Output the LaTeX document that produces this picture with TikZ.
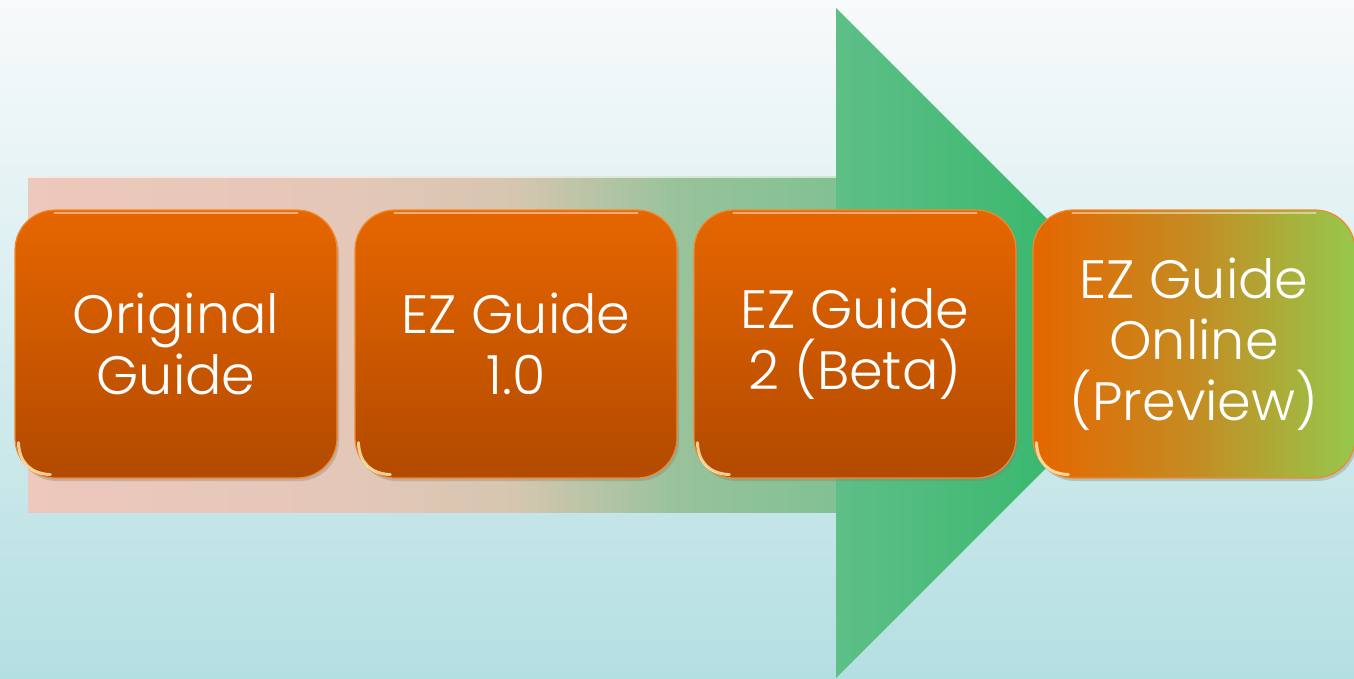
\documentclass[tikz,border=0pt]{standalone}
\usepackage{fontspec}
\IfFontExistsTF{Poppins Light}{\setmainfont{Poppins Light}}{\setmainfont{Poppins}}
\usetikzlibrary{shadows,calc}
\definecolor{bgtop}{HTML}{F8FAFB}
\definecolor{bgbot}{HTML}{B4DFE2}
\definecolor{shaftL}{HTML}{EDC8BC}
\definecolor{shaftM}{HTML}{D6C6B0}
\definecolor{shaftR}{HTML}{5CBF85}
\definecolor{headL}{HTML}{5EBF87}
\definecolor{headR}{HTML}{26B461}
\definecolor{boxT}{HTML}{E66600}
\definecolor{boxB}{HTML}{B24A00}
\definecolor{boxEdge}{HTML}{F08A2E}
\definecolor{onlineM}{HTML}{C48C22}
\definecolor{onlineR}{HTML}{96C84C}
\pgfdeclarehorizontalshading{shaftshade}{100bp}{%
  color(0bp)=(shaftL); color(25bp)=(shaftL); color(45bp)=(shaftL!60!shaftM);
  color(55bp)=(shaftM); color(65bp)=(shaftM!50!shaftR); color(75bp)=(shaftR!70!shaftM);
  color(100bp)=(shaftR)}
\tikzset{
  stage/.style={rectangle, rounded corners=40pt, minimum width=322pt, minimum height=268pt,
    draw=boxEdge, line width=1.2pt, text=white, align=center,
    font=\fontsize{54}{61}\selectfont, inner sep=0pt,
    drop shadow={opacity=0.35, shadow xshift=2pt, shadow yshift=-3pt}},
  orangebox/.style={stage, top color=boxT, bottom color=boxB},
  mixbox/.style={stage, left color=boxT, right color=onlineR, middle color=onlineM},
  gloss/.style={white, line width=2pt, opacity=0.45, line cap=round},
  glare/.style={white!80!yellow, line width=3pt, opacity=0.75, line cap=round}
}
\newcommand{\glossy}[1]{%
  \draw[gloss] ($(#1.north west)+(40,4)$) -- ($(#1.north east)+(-40,4)$);
  \draw[glare] ($(#1.south west)+(4,-36)$) .. controls ($(#1.south west)+(5,-16)$) and ($(#1.south west)+(16,-5)$) .. ($(#1.south west)+(36,-4)$);
}
\begin{document}
\begin{tikzpicture}[x=1pt,y=-1pt]
\shade[top color=bgtop, bottom color=bgbot] (0,0) rectangle (1354,678);
\useasboundingbox (0,0) rectangle (1354,678);
% arrow shaft
\shade[shading=shaftshade] (28,176) rectangle (837,512);
\draw[white, opacity=0.6, line width=1.5pt] (28,177) -- (836,177);
% arrow head
\shade[left color=headL, right color=headR] (836,8) -- (1171,343) -- (836,678) -- cycle;
% stages
\node[orangebox] (b1) at (176,344) {Original\\Guide};
\node[orangebox] (b2) at (516,344) {EZ Guide\\1.0};
\node[orangebox] (b3) at (855,344) {EZ Guide\\2 (Beta)};
\node[mixbox] (b4) at (1194,344) {EZ Guide\\Online\\(Preview)};
\glossy{b1}\glossy{b2}\glossy{b3}\glossy{b4}
\end{tikzpicture}
\end{document}
